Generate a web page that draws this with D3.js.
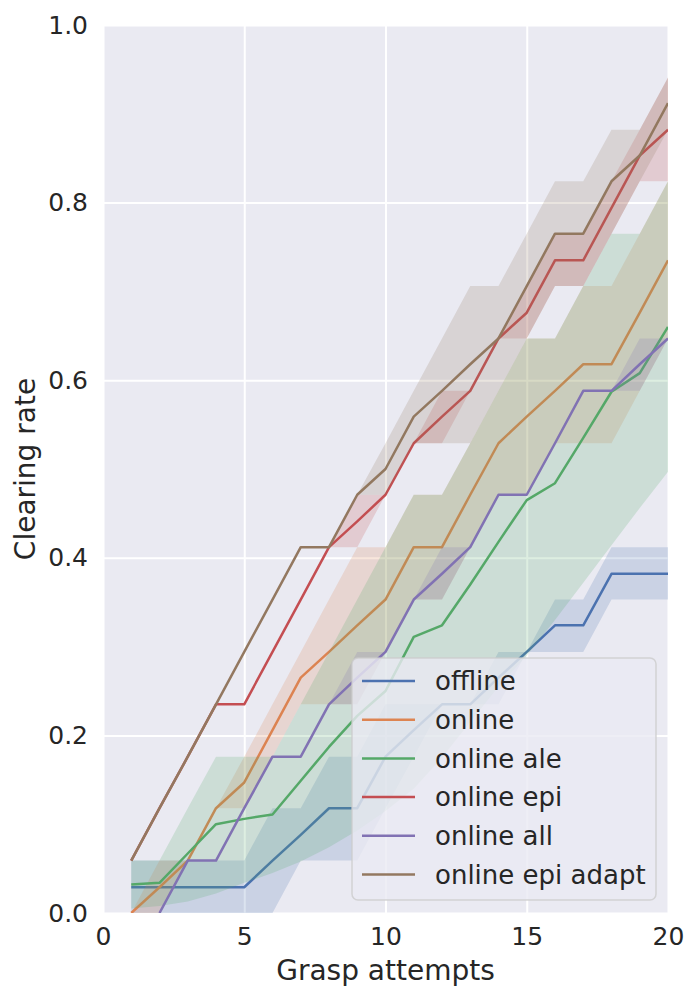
<!DOCTYPE html>
<html lang="en">
<head>
<meta charset="UTF-8">
<title>Clearing rate</title>
<style>
    body { margin: 0; background: #ffffff; }
    text { font-family: "DejaVu Sans", sans-serif; fill: #262626; }
</style>
</head>
<body>
<script src="https://cdn.jsdelivr.net/npm/d3@7"></script>
<script>
    // grasp attempt index
    let attempts = [1, 2, 3, 4, 5, 6, 7, 8, 9, 10, 11, 12, 13, 14, 15, 16, 17, 18, 19, 20];

    let seriesNames = ["offline", "online", "online ale", "online epi", "online all", "online epi adapt"];
    let seriesColors = ["#4C72B0", "#DD8452", "#55A868", "#C44E52", "#8172B3", "#937860"];

    // mean line + lower / upper band (null = no point)
    let offlineMean = [.029, .029, .029, .029, .029, .059, .088, .118, .118, .176, .206, .235, .235, .265, .294, .324, .324, .382, .382, .382];
    let offlineLo   = [0, 0, 0, 0, 0, 0, .059, .059, .059, .118, .176, .235, .235, .235, .294, .294, .294, .353, .353, .353];
    let offlineHi   = [.059, .059, .059, .059, .059, .118, .118, .176, .176, .235, .235, .235, .235, .294, .294, .353, .353, .412, .412, .412];

    let onlineMean = [0, .029, .059, .118, .147, .206, .265, .294, .324, .353, .412, .412, .471, .529, .559, .588, .618, .618, .676, .735];
    let onlineLo   = [0, 0, .059, .118, .118, .176, .235, .235, .235, .294, .353, .353, .412, .471, .471, .529, .529, .529, .588, .647];
    let onlineHi   = [0, .059, .059, .118, .176, .235, .294, .353, .412, .412, .471, .471, .529, .588, .647, .647, .706, .706, .765, .824];

    let aleMean = [.032, .034, .067, .100, .106, .111, .149, .187, .222, .250, .311, .324, .370, .418, .465, .484, .535, .587, .608, .660];
    let aleLo   = [.005, .008, .013, .022, .034, .045, .058, .074, .093, .115, .140, .175, .215, .255, .290, .330, .372, .414, .456, .497];
    let aleHi   = [.059, .059, .118, .176, .176, .176, .235, .294, .353, .412, .471, .471, .529, .588, .647, .647, .706, .765, .765, .824];

    let epiMean = [.059, .118, .176, .235, .235, .294, .353, .412, .441, .471, .529, .559, .588, .647, .676, .735, .735, .794, .853, .882];
    let epiLo   = [.059, .118, .176, .235, .235, .294, .353, .412, .412, .471, .529, .529, .588, .647, .647, .706, .706, .765, .824, .824];
    let epiHi   = [.059, .118, .176, .235, .235, .294, .353, .412, .471, .471, .529, .588, .588, .647, .706, .765, .765, .824, .882, .941];

    let allMean = [null, 0, .059, .059, .118, .176, .176, .235, .265, .294, .353, .382, .412, .471, .471, .529, .588, .588, .618, .647];
    let allLo   = [null, 0, .059, .059, .118, .176, .176, .235, .235, .294, .353, .353, .412, .471, .471, .529, .588, .588, .588, .647];
    let allHi   = [null, 0, .059, .059, .118, .176, .176, .235, .294, .294, .353, .412, .412, .471, .471, .529, .588, .588, .647, .647];

    let adaptMean = [.059, .118, .176, .235, .294, .353, .412, .412, .471, .500, .559, .588, .618, .647, .706, .765, .765, .824, .853, .912];
    let adaptLo   = [.059, .118, .176, .235, .294, .353, .412, .412, .471, .471, .529, .529, .529, .588, .647, .706, .706, .765, .824, .882];
    let adaptHi   = [.059, .118, .176, .235, .294, .353, .412, .412, .471, .529, .588, .647, .706, .706, .765, .824, .824, .882, .882, .941];

    let xTicks = [0, 5, 10, 15, 20];
    let yTicks = [0, 0.2, 0.4, 0.6, 0.8, 1.0];

    let means = [offlineMean, onlineMean, aleMean, epiMean, allMean, adaptMean];
    let lows = [offlineLo, onlineLo, aleLo, epiLo, allLo, adaptLo];
    let highs = [offlineHi, onlineHi, aleHi, epiHi, allHi, adaptHi];

    let series = seriesNames.map(function(name, i) {
        return {
            name: name,
            color: seriesColors[i],
            points: attempts.map(function(a, j) {
                return {x: a, y: means[i][j], lo: lows[i][j], hi: highs[i][j]};
            })
        };
    });

    // Margin, Width, and Height Setup
    let margin = {top: 25, right: 32, bottom: 87, left: 103},
        width = 700 - margin.left - margin.right,
        height = 1000 - margin.top - margin.bottom;

    let svg = d3.select('body')
        .append('svg')
        .attr('width', 700)
        .attr('height', 1000);

    let g = svg.append('g')
        .attr('transform', 'translate(' + margin.left + ',' + margin.top + ')');

    let x = d3.scaleLinear().domain([0, 20]).range([0, width]);
    let y = d3.scaleLinear().domain([0, 1]).range([height, 0]);

    // background + grid
    g.append('rect')
        .attr('width', width)
        .attr('height', height)
        .attr('fill', '#EAEAF2');

    g.append('g')
        .call(d3.axisBottom(x).tickValues(xTicks).tickSize(height).tickFormat(''))
        .call(function(ax) {
            ax.select('.domain').remove();
            ax.selectAll('line').attr('stroke', '#ffffff').attr('stroke-width', 2);
        });

    g.append('g')
        .call(d3.axisLeft(y).tickValues(yTicks).tickSize(-width).tickFormat(''))
        .call(function(ax) {
            ax.select('.domain').remove();
            ax.selectAll('line').attr('stroke', '#ffffff').attr('stroke-width', 2);
        });

    // tick labels
    g.append('g')
        .attr('transform', 'translate(0,' + height + ')')
        .call(d3.axisBottom(x).tickValues(xTicks).tickSize(0).tickPadding(14).tickFormat(d3.format('d')))
        .call(function(ax) {
            ax.select('.domain').remove();
            ax.selectAll('text').attr('font-size', '25px').attr('fill', '#262626')
                .attr('font-family', 'DejaVu Sans');
        });

    g.append('g')
        .call(d3.axisLeft(y).tickValues(yTicks).tickSize(0).tickPadding(15).tickFormat(d3.format('.1f')))
        .call(function(ax) {
            ax.select('.domain').remove();
            ax.selectAll('text').attr('font-size', '25px').attr('fill', '#262626')
                .attr('font-family', 'DejaVu Sans');
        });

    // axis labels
    svg.append('text')
        .attr('x', margin.left + width / 2)
        .attr('y', 980)
        .attr('text-anchor', 'middle')
        .attr('font-size', '28px')
        .text('Grasp attempts');

    svg.append('text')
        .attr('transform', 'translate(35,' + (margin.top + height / 2) + ') rotate(-90)')
        .attr('text-anchor', 'middle')
        .attr('font-size', '28px')
        .text('Clearing rate');

    // plot area clip
    svg.append('defs').append('clipPath')
        .attr('id', 'plot-clip')
        .append('rect')
        .attr('width', width)
        .attr('height', height);

    let plot = g.append('g').attr('clip-path', 'url(#plot-clip)');

    let hasValue = function(d) { return d.y !== null; };

    let line = d3.line()
        .defined(hasValue)
        .x(function(d) { return x(d.x); })
        .y(function(d) { return y(d.y); });

    let band = d3.area()
        .defined(hasValue)
        .x(function(d) { return x(d.x); })
        .y0(function(d) { return y(d.lo); })
        .y1(function(d) { return y(d.hi); });

    // line then its band, one hue after the other
    series.forEach(function(s) {
        plot.append('path')
            .datum(s.points)
            .attr('d', line)
            .attr('fill', 'none')
            .attr('stroke', s.color)
            .attr('stroke-width', 2.5)
            .attr('stroke-linejoin', 'round');

        plot.append('path')
            .datum(s.points)
            .attr('d', band)
            .attr('fill', s.color)
            .attr('fill-opacity', 0.2)
            .attr('stroke', 'none');
    });

    // legend
    let legend = svg.append('g').attr('transform', 'translate(352,658)');

    legend.append('rect')
        .attr('width', 304)
        .attr('height', 242)
        .attr('rx', 6)
        .attr('fill', '#EAEAF2')
        .attr('fill-opacity', 0.8)
        .attr('stroke', '#cccccc')
        .attr('stroke-opacity', 0.8)
        .attr('stroke-width', 1.5);

    let items = legend.selectAll('.item')
        .data(series)
        .enter()
        .append('g')
        .attr('class', 'item')
        .attr('transform', function(d, i) { return 'translate(0,' + (23 + i * 38.7) + ')'; });

    items.append('line')
        .attr('x1', 10)
        .attr('x2', 63)
        .attr('stroke', function(d) { return d.color; })
        .attr('stroke-width', 2.5);

    items.append('text')
        .attr('x', 83)
        .attr('dy', '0.35em')
        .attr('font-size', '26px')
        .text(function(d) { return d.name; });
</script>
</body>
</html>
